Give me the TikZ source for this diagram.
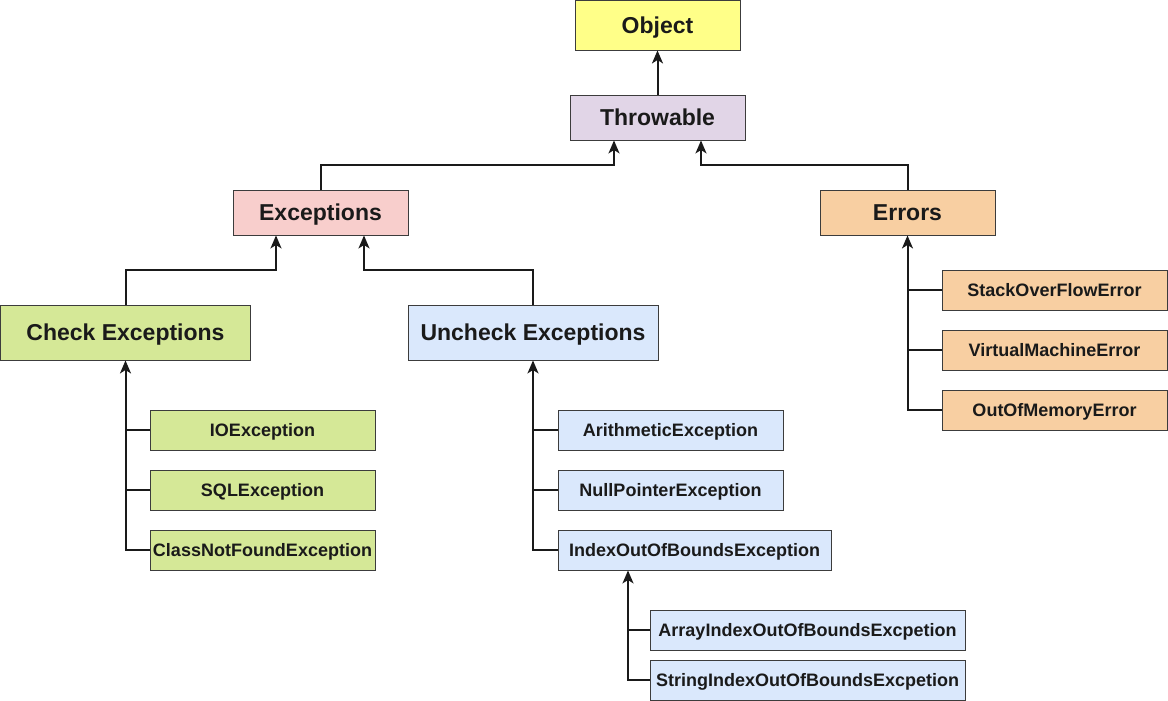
\documentclass[tikz,border=0pt]{standalone}
\usepackage{fontspec}
\setmainfont{Liberation Sans}
\usetikzlibrary{arrows.meta}
\usetikzlibrary{positioning}
\definecolor{objfill}{HTML}{FFFF88}
\definecolor{thrfill}{HTML}{E1D5E7}
\definecolor{excfill}{HTML}{F8CECC}
\definecolor{errfill}{HTML}{F8CFA2}
\definecolor{chkfill}{HTML}{D5E897}
\definecolor{unchkfill}{HTML}{DAE8FC}
\definecolor{ink}{HTML}{1A1A1A}

\begin{document}
\begin{tikzpicture}[x=1pt,y=-1pt,
    box/.style={draw=ink!85,line width=0.9pt,inner sep=0pt,text=ink,
        text height=16.5pt,text depth=0pt,
        minimum height=45pt,minimum width=175pt,font=\fontsize{23}{26}\selectfont\bfseries},
    leaf/.style={draw=ink!85,line width=0.9pt,inner sep=0pt,text=ink,
        text height=12.9pt,text depth=0pt,
        minimum height=40pt,minimum width=225pt,font=\fontsize{18}{20}\selectfont\bfseries},
    link/.style={draw=ink,line width=2pt},
    up/.style={link,-{Stealth[length=13pt,width=11pt,inset=3.5pt]}}]
\useasboundingbox (0,0) rectangle (1168,701);

% top of the tree
\node[box,fill=objfill,minimum width=165pt,minimum height=50pt] (obj) at (657.5,25) {Object};
\node[box,fill=thrfill] (thr) at (657.5,117.5) {Throwable};
\node[box,fill=excfill] (exc) at (320.5,212.5) {Exceptions};
\node[box,fill=errfill] (err) at (907.5,212.5) {Errors};
\node[box,fill=chkfill,minimum width=250pt,minimum height=55pt] (chk) at (125.5,332.5) {Check Exceptions};
\node[box,fill=unchkfill,minimum width=250pt,minimum height=55pt] (unchk) at (533,332.5) {Uncheck Exceptions};

% checked
\node[leaf,fill=chkfill] (io) at (262.5,430) {IOException};
\node[leaf,fill=chkfill] (sql) at (262.5,490) {SQLException};
\node[leaf,fill=chkfill] (cnf) at (262.5,550) {ClassNotFoundException};

% unchecked
\node[leaf,fill=unchkfill] (arith) at (670.5,430) {ArithmeticException};
\node[leaf,fill=unchkfill] (npe) at (670.5,490) {NullPointerException};
\node[leaf,fill=unchkfill,minimum width=273pt] (idx) at (694.5,550) {IndexOutOfBoundsException};
\node[leaf,fill=unchkfill,minimum width=315pt] (aidx) at (807.5,630) {ArrayIndexOutOfBoundsExcpetion};
\node[leaf,fill=unchkfill,minimum width=315pt] (sidx) at (807.5,680) {StringIndexOutOfBoundsExcpetion};
\coordinate (idxtrunk) at ([xshift=-66.5pt]idx.south);

% errors
\node[leaf,fill=errfill] (soe) at (1054.5,290) {StackOverFlowError};
\node[leaf,fill=errfill] (vme) at (1054.5,350) {VirtualMachineError};
\node[leaf,fill=errfill] (oom) at (1054.5,410) {OutOfMemoryError};

% arrows between levels
\draw[up] (thr) -- (obj);
\draw[up] (exc.north) -- ++(0,-25) -| ([xshift=-43.5pt]thr.south);
\draw[up] (err.north) -- ++(0,-25) -| ([xshift=43.5pt]thr.south);
\draw[up] (chk.north) -- ++(0,-35) -| ([xshift=-44.5pt]exc.south);
\draw[up] (unchk.north) -- ++(0,-35) -| ([xshift=43.5pt]exc.south);

% branches
\draw[up] (cnf.west) -| (chk.south);
\foreach \n in {io,sql}
    \draw[link] (\n.west) -- (\n.west -| chk.south);
\draw[up] (idx.west) -| (unchk.south);
\foreach \n in {arith,npe}
    \draw[link] (\n.west) -- (\n.west -| unchk.south);
\draw[up] (oom.west) -| (err.south);
\foreach \n in {soe,vme}
    \draw[link] (\n.west) -- (\n.west -| err.south);
\draw[up] (sidx.west) -| (idxtrunk);
\draw[link] (aidx.west) -- (aidx.west -| idxtrunk);

\end{tikzpicture}
\end{document}
